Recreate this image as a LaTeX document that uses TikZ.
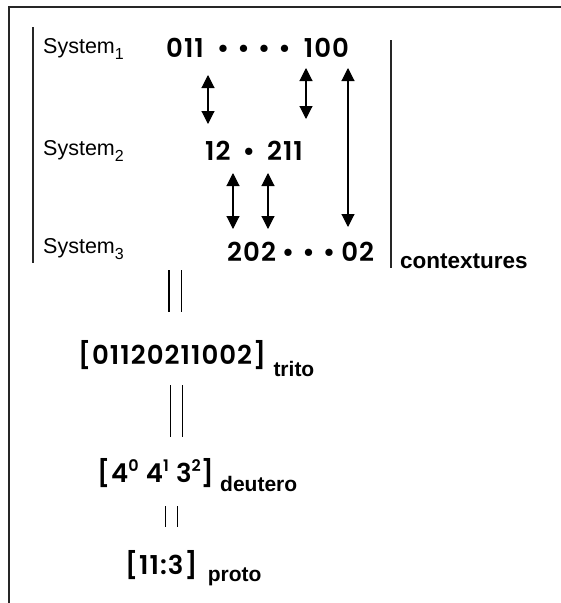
\documentclass[tikz,border=0pt]{standalone}
\usepackage{fontspec}
\setmainfont{Liberation Sans}
\newfontfamily\numfont{Poppins}[UprightFont={* SemiBold}, LetterSpace=4]
\usetikzlibrary{positioning,arrows.meta}

\newcommand{\sysidx}[1]{\raisebox{-0.3em}{\fontsize{16}{16}\selectfont #1}}
\newcommand{\expo}[1]{\raisebox{0.42em}{\fontsize{16}{16}\selectfont #1}}
\newcommand{\gap}[1]{\hspace{#1pt}}
\newcommand{\dt}{\textbullet\hspace{8pt}}
\newcommand{\lastdt}{\textbullet}

\begin{document}
\begin{tikzpicture}[x=1pt,y=-1pt,
  sysname/.style={anchor=base west, inner sep=0pt, font=\fontsize{21.5}{23}\selectfont},
  digits/.style={anchor=base west, inner sep=0pt, font=\fontsize{26}{28}\selectfont\numfont},
  tag/.style={anchor=base west, inner sep=0pt, font=\fontsize{21}{23}\selectfont\bfseries},
  bar/.style={line width=1.8pt, black!85},
  link/.style={line width=1.1pt, {Triangle[width=13pt,length=13pt]}-{Triangle[width=13pt,length=13pt]}},
  equal/.style={line width=1.3pt, double, double distance=11pt}]

  \useasboundingbox (0,0) rectangle (561,603);

  % Cornice
  \draw[line width=2.5pt, black!85] (561,7) -- (9,7) -- (9,603);

  % Sistemi
  \node[sysname] (sys1) at (43,53) {System\sysidx{1}};
  \node[sysname] (sys2) at (43,155) {System\sysidx{2}};
  \node[sysname] (sys3) at (43,253) {System\sysidx{3}};

  \node[digits] (row1) at (166,57) {011\gap{13}\dt\dt\dt\lastdt\gap{13}100};
  \node[digits] (row2) at (205,160) {12\gap{12}\lastdt\gap{12}211};
  \node[digits] (row3) at (227,261) {202\gap{6}\dt\dt\lastdt\gap{6}02};

  % Barre laterali
  \coordinate (lbtop) at (33,27);
  \coordinate (lbbot) at (33,263);
  \coordinate (rbtop) at (391,40);
  \coordinate (rbbot) at (391,268);
  \draw[bar] (lbtop) -- (lbbot);
  \draw[bar] (rbtop) -- (rbbot);
  \node[tag, font=\fontsize{22.5}{24}\selectfont\bfseries] (ctx) at (400,268) {contextures};

  % Frecce fra i sistemi
  \coordinate (a1) at (208,75);  \coordinate (b1) at (208,124);
  \coordinate (a2) at (306,68);  \coordinate (b2) at (306,119);
  \coordinate (a3) at (348,68);  \coordinate (b3) at (348,227);
  \coordinate (a4) at (233,173); \coordinate (b4) at (233,229);
  \coordinate (a5) at (268,173); \coordinate (b5) at (268,229);
  \foreach \i in {1,...,5}
    \draw[link] (a\i) -- (b\i);

  % Livelli
  \node[digits] (trito) at (78,364) {[01120211002]};
  \node[tag, right=7pt of trito.base east, anchor=base west, yshift=-12pt] (tritotag) {trito};
  \node[digits] (deutero) at (97,482) {[4\expo{0}\ 4\expo{1}\ 3\expo{2}]};
  \node[tag, right=6pt of deutero.base east, anchor=base west, yshift=-9pt] (deuterotag) {deutero};
  \node[digits] (proto) at (125,574) {[11:3]};
  \node[tag, right=10pt of proto.base east, anchor=base west, yshift=-7pt] (prototag) {proto};

  \coordinate (e1) at (175,270); \coordinate (f1) at (175,312);
  \coordinate (e2) at (176.5,385); \coordinate (f2) at (176.5,437);
  \coordinate (e3) at (171.5,506); \coordinate (f3) at (171.5,527);
  \foreach \i in {1,2,3}
    \draw[equal] (e\i) -- (f\i);
\end{tikzpicture}
\end{document}
